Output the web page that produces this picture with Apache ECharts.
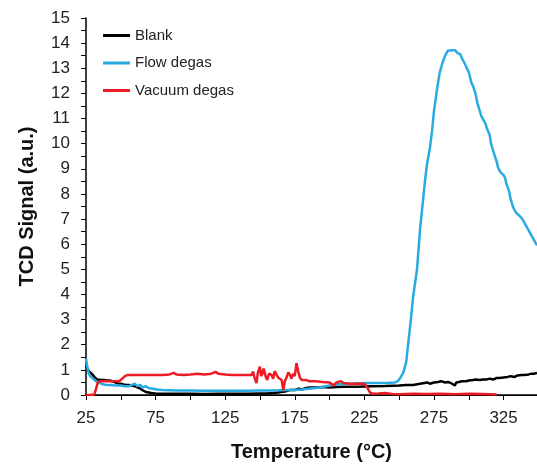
<!DOCTYPE html>
<html>
<head>
<meta charset="utf-8">
<script src="https://cdn.jsdelivr.net/npm/echarts@6/dist/echarts.min.js"></script>
<style>html,body{margin:0;padding:0;background:#fff}#c{width:537px;height:464px}</style>
</head>
<body>
<div id="c"></div>
<script>
// Tick labels
const xTickLabels = [25, 75, 125, 175, 225, 275, 325];
const yTickLabels = [0,1,2,3,4,5,6,7,8,9,10,11,12,13,14,15];

// Blank
const blankT = [25,26,27,28,29,30,31,32,33,34,36,38,40,42,44,46,48,50,52,54,56,58,60,62,64,66,68,70,72,75,80,90,100,110,120,130,140,150,155,160,163,165,168,170,172,175,178,180,183,186,190,195,200,205,210,220,230,240,250,255,260,262,265,268,270,272,275,278,280,283,285,288,290,291,293,295,298,300,303,305,308,310,313,315,318,320,322,325,328,330,333,335,338,340,343,345,347,349];
const blankV = [1.15,1.05,0.95,0.9,0.85,0.8,0.72,0.68,0.62,0.6,0.6,0.6,0.58,0.58,0.55,0.5,0.45,0.45,0.42,0.4,0.4,0.38,0.35,0.3,0.25,0.18,0.12,0.1,0.08,0.06,0.05,0.05,0.05,0.04,0.05,0.05,0.05,0.06,0.06,0.08,0.1,0.12,0.14,0.18,0.2,0.2,0.25,0.22,0.28,0.3,0.3,0.32,0.3,0.32,0.33,0.33,0.35,0.36,0.38,0.4,0.4,0.42,0.45,0.48,0.5,0.45,0.5,0.52,0.55,0.5,0.52,0.45,0.38,0.5,0.52,0.55,0.55,0.58,0.6,0.62,0.6,0.62,0.62,0.65,0.62,0.68,0.68,0.7,0.72,0.75,0.72,0.78,0.8,0.8,0.82,0.85,0.85,0.88];

// Flow degas
const flowT = [25,26,27,28,30,32,34,36,38,40,43,46,50,53,56,58,60,62,64,66,68,70,73,76,80,90,100,110,120,130,140,150,160,170,175,180,185,190,195,200,205,210,215,220,230,240,247,249,251,253,255,256,258,260,262.8,265,268.5,270,272,273.6,275,277,279,281,283,285,288,290,291,292,293,294,295,296,297,299,300,302,303,305,306,307,309,310,311,312,313,315,316,317,319,320,321,323,325,326,327,329,330,331,332,334,335,337,339,341,343,345,347,349];
const flowV = [1.45,1.1,0.85,0.75,0.65,0.55,0.5,0.45,0.42,0.4,0.4,0.38,0.38,0.35,0.35,0.4,0.45,0.35,0.4,0.3,0.35,0.28,0.25,0.22,0.2,0.18,0.18,0.17,0.17,0.17,0.17,0.18,0.18,0.2,0.2,0.22,0.25,0.28,0.32,0.38,0.42,0.45,0.45,0.47,0.48,0.48,0.5,0.55,0.7,0.9,1.3,1.8,2.8,3.9,5.0,6.6,8.5,9.2,9.8,10.5,11.3,12.1,12.8,13.2,13.5,13.7,13.72,13.72,13.65,13.6,13.6,13.55,13.4,13.35,13.2,12.95,12.85,12.4,12.3,11.95,11.65,11.6,11.1,11.0,10.9,10.8,10.6,10.35,10.0,9.95,9.45,9.3,9.05,8.85,8.75,8.65,8.4,8.1,7.8,7.75,7.45,7.25,7.2,7.1,6.95,6.75,6.55,6.35,6.15,5.95];

// Vacuum degas
const vacT = [25,28,31,32.5,33.5,35,40,45,49,51,53,55,60,70,80,85,88,90,95,100,105,110,115,118,120,125,130,135,140,144,145,146,147.5,148.5,149.9,150.8,151.8,152.6,153.5,154.3,155.2,156.5,158.3,159.5,160.5,161.9,163,164.3,165.5,166.7,167.8,169.1,170.3,171.5,172.6,173.8,175,176.2,177.4,178.6,180,181,183,185,190,195,200,203,205,208,210,215,220,225,227,229,231,235,240,245,250,260,270,280,290,300,310,315,320];
const vacV = [0.0,0.0,0.02,0.3,0.5,0.55,0.55,0.55,0.56,0.65,0.75,0.8,0.8,0.8,0.8,0.82,0.88,0.82,0.8,0.82,0.85,0.82,0.85,0.92,0.85,0.82,0.8,0.8,0.8,0.8,0.93,0.7,0.47,0.9,1.13,0.75,0.87,1.05,0.99,0.7,0.6,0.85,0.8,0.65,0.95,0.9,0.7,0.75,0.6,0.2,0.55,0.7,0.9,0.8,0.65,0.85,0.75,1.27,0.95,0.7,0.6,0.55,0.6,0.55,0.55,0.52,0.5,0.38,0.5,0.55,0.48,0.45,0.45,0.45,0.3,0.1,0.05,0.06,0.08,0.04,0.03,0.05,0.04,0.05,0.03,0.05,0.04,0.03,0.02];

function zip(a, b) { return a.map((t, i) => [t, b[i]]); }

const FONT = 'Liberation Sans';
const chart = echarts.init(document.getElementById('c'), null, {renderer: 'canvas'});
chart.setOption({
  animation: false,
  backgroundColor: '#fff',
  grid: {left: 86, top: 18, right: 0, bottom: 69, containLabel: false, outerBoundsMode: 'none'},
  legend: {
    orient: 'vertical', left: 103, top: 28, padding: 0, itemWidth: 27, itemHeight: 3, itemGap: 12.5,
    icon: 'rect',
    textStyle: {fontFamily: FONT, fontSize: 15, color: '#222'},
    data: ['Blank', 'Flow degas', 'Vacuum degas']
  },
  xAxis: [{
    type: 'value', min: 25, max: 349, interval: 25,
    name: 'Temperature (°C)', nameLocation: 'middle', nameGap: 47,
    nameTextStyle: {fontFamily: FONT, fontSize: 20, fontWeight: 'bold', color: '#111'},
    axisLine: {show: true, onZero: false, lineStyle: {color: '#000', width: 1.5}},
    axisTick: {show: true, inside: false, length: 5, lineStyle: {color: '#000'}},
    axisLabel: {fontFamily: FONT, fontSize: 17, color: '#222', margin: 15,
      showMaxLabel: false,
      formatter: v => (xTickLabels.indexOf(v) >= 0 ? String(v) : '')},
    splitLine: {show: false}
  }, {
    type: 'value', position: 'top', min: 25, max: 349,
    axisLine: {show: true, lineStyle: {color: '#000', width: 1.2}},
    axisTick: {show: false}, axisLabel: {show: false}, splitLine: {show: false}
  }],
  yAxis: {
    type: 'value', min: 0, max: 15, interval: 0.5,
    name: 'TCD Signal (a.u.)', nameLocation: 'middle', nameGap: 49,
    nameTextStyle: {fontFamily: FONT, fontSize: 20, fontWeight: 'bold', color: '#111'},
    axisLine: {show: true, lineStyle: {color: '#000', width: 1.5}},
    axisTick: {show: true, inside: false, length: 5, lineStyle: {color: '#000'}},
    axisLabel: {fontFamily: FONT, fontSize: 17, color: '#222', margin: 16,
      formatter: v => (yTickLabels.indexOf(v) >= 0 ? String(v) : '')},
    splitLine: {show: false}
  },
  series: [
    {name: 'Blank', type: 'line', data: zip(blankT, blankV), showSymbol: false, symbol: 'none',
      lineStyle: {color: '#000000', width: 2.5}, itemStyle: {color: '#000000'}},
    {name: 'Flow degas', type: 'line', data: zip(flowT, flowV), showSymbol: false, symbol: 'none',
      lineStyle: {color: '#29ABE2', width: 2.5}, itemStyle: {color: '#29ABE2'}},
    {name: 'Vacuum degas', type: 'line', data: zip(vacT, vacV), showSymbol: false, symbol: 'none',
      lineStyle: {color: '#ED1C24', width: 2.5}, itemStyle: {color: '#ED1C24'}}
  ]
});
</script>
</body>
</html>
